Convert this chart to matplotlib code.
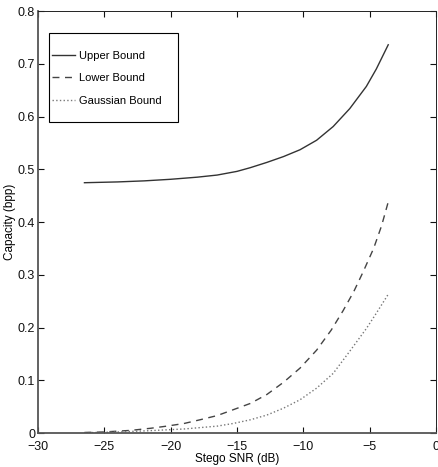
import matplotlib
matplotlib.use("Agg")
import matplotlib.pyplot as plt
from matplotlib.patches import Rectangle

plt.rcParams['font.family'] = ['Liberation Sans', 'DejaVu Sans']

# values
snr_up = [-26.5, -24, -22, -20, -18, -16.5, -15, -14, -12.75, -11.5, -10.25,
          -9, -7.75, -6.5, -5.25, -4.5, -3.6]
upper = [0.4745, 0.476, 0.478, 0.481, 0.485, 0.489, 0.496, 0.503, 0.513, 0.524,
         0.537, 0.555, 0.581, 0.615, 0.657, 0.690, 0.736]

snr_lo = [-26.5, -25, -23, -21.5, -20.3, -19, -17.8, -16.5, -15.3, -14, -12.75,
          -11.5, -10.25, -9, -7.9, -7, -6.2, -5.5, -4.7, -4.1, -3.6]
lower = [0.001, 0.002, 0.005, 0.009, 0.013, 0.018, 0.025, 0.033, 0.044, 0.056,
         0.073, 0.096, 0.123, 0.157, 0.195, 0.232, 0.268, 0.305, 0.350, 0.393, 0.438]

snr_ga = [-26.5, -24, -21.6, -19, -16.5, -15.3, -14, -12.75, -11.5, -10.25,
          -9, -7.75, -6.5, -5.25, -4.5, -4, -3.6]
gauss = [0.0005, 0.002, 0.0044, 0.0076, 0.013, 0.018, 0.025, 0.034, 0.047, 0.063,
         0.085, 0.113, 0.155, 0.198, 0.227, 0.247, 0.263]

xticks = [-30, -25, -20, -15, -10, -5, 0]
xlabels = ['\u221230', '\u221225', '\u221220', '\u221215', '\u221210', '\u22125', '0']
yticks = [0, 0.1, 0.2, 0.3, 0.4, 0.5, 0.6, 0.7, 0.8]
ylabels = ['0', '0.1', '0.2', '0.3', '0.4', '0.5', '0.6', '0.7', '0.8']

fig = plt.figure(figsize=(4.38, 4.67), dpi=100)
ax = fig.add_axes([0.0868, 0.0728, 0.9086, 0.9036])

ax.plot(snr_up, upper, '-', color='#333333', lw=1.0, label='Upper Bound')
ax.plot(snr_lo, lower, '--', color='#444444', lw=1.0, dashes=(5, 4), label='Lower Bound')
ax.plot(snr_ga, gauss, ':', color='#777777', lw=1.0, label='Gaussian Bound')

ax.set_xlim(-30, 0)
ax.set_ylim(0, 0.8)
ax.set_xticks(xticks)
ax.set_xticklabels(xlabels)
ax.set_yticks(yticks)
ax.set_yticklabels(ylabels)
ax.tick_params(direction='in', top=True, right=True, length=4, width=0.8,
               labelsize=9, colors='#111111')
ax.tick_params(axis='x', pad=6)
ax.tick_params(axis='y', pad=2)
for s in ['top', 'right']:
    ax.spines[s].set_linewidth(0.7)
    ax.spines[s].set_color('#222222')
for s in ['left', 'bottom']:
    ax.spines[s].set_linewidth(1.3)
    ax.spines[s].set_color('#555555')

ax.set_xlabel('Stego SNR (dB)', fontsize=8.5, labelpad=0)
ax.set_ylabel('Capacity (bpp)', fontsize=8.5, labelpad=1)

# legend box drawn like the MATLAB one: wide right margin
ax.add_patch(Rectangle((0.0276, 0.737), 0.324, 0.211, transform=ax.transAxes,
                       facecolor='white', edgecolor='black', lw=0.8, zorder=4))
leg = ax.legend(loc='upper left', bbox_to_anchor=(0.035, 0.905), fontsize=8,
                frameon=False, handlelength=2.1, handletextpad=0.3,
                borderpad=0, labelspacing=1.1, borderaxespad=0)
leg.set_zorder(5)

fig.savefig('out.png', dpi=100)
